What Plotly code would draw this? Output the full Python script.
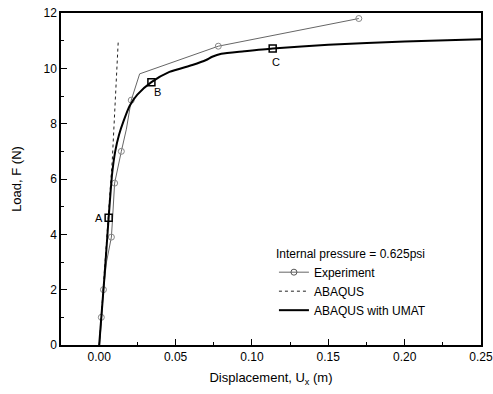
import plotly.graph_objects as go

# Experiment data
exp_x = [0.0003, 0.0014, 0.0028, 0.0048, 0.0080, 0.0088, 0.0101, 0.0145, 0.0178, 0.0210, 0.0265, 0.0780, 0.1700]
exp_y = [0.0, 1.0, 2.0, 3.0, 3.9, 4.6, 5.85, 7.0, 7.8, 8.85, 9.8, 10.8, 11.8]
exp_marker_x = [0.0014, 0.0028, 0.0080, 0.0101, 0.0145, 0.0210, 0.0780, 0.1700]
exp_marker_y = [1.0, 2.0, 3.9, 5.85, 7.0, 8.85, 10.8, 11.8]

# ABAQUS (dotted)
abq_x = [0.0, 0.0086, 0.0125]
abq_y = [0.0, 6.7, 11.0]

# ABAQUS with UMAT
umat_x = [0.0, 0.0035, 0.0062, 0.0085, 0.0105, 0.0130, 0.0160, 0.0200, 0.0250, 0.0342, 0.0460,
          0.0610, 0.0700, 0.0740, 0.0800, 0.0950, 0.1136, 0.1500, 0.2000, 0.2500]
umat_y = [0.0, 2.5, 4.6, 6.2, 7.0, 7.6, 8.1, 8.65, 9.05, 9.5, 9.87,
          10.12, 10.3, 10.42, 10.53, 10.62, 10.72, 10.85, 10.97, 11.05]

# Labelled points
pt_labels = ["A", "B", "C"]
pt_x = [0.0062, 0.0342, 0.1136]
pt_y = [4.6, 9.5, 10.72]

x_ticks = [0.0, 0.05, 0.10, 0.15, 0.20, 0.25]
y_ticks = [0, 2, 4, 6, 8, 10, 12]

FONT = "Liberation Sans, Arial, sans-serif"

fig = go.Figure()

fig.add_trace(go.Scatter(
    x=exp_x, y=exp_y, mode="lines", line=dict(color="#666666", width=1),
    showlegend=False, hoverinfo="skip"))
fig.add_trace(go.Scatter(
    x=exp_marker_x, y=exp_marker_y, mode="markers",
    marker=dict(symbol="circle-open", size=6, color="#888888", line=dict(width=1)),
    showlegend=False, hoverinfo="skip"))
# legend entry for experiment
fig.add_trace(go.Scatter(
    x=[None], y=[None], mode="lines+markers", name="Experiment",
    line=dict(color="#666666", width=1),
    marker=dict(symbol="circle-open", size=6, color="#555555", line=dict(width=1))))

fig.add_trace(go.Scatter(
    x=abq_x, y=abq_y, mode="lines", name="ABAQUS",
    line=dict(color="#222222", width=1, dash="dot")))

fig.add_trace(go.Scatter(
    x=umat_x, y=umat_y, mode="lines", name="ABAQUS with UMAT",
    line=dict(color="black", width=2, shape="spline", smoothing=0.6)))

fig.add_trace(go.Scatter(
    x=pt_x, y=pt_y, mode="markers", showlegend=False,
    marker=dict(symbol="square-open", size=7, color="black", line=dict(width=1.5))))

ann_offsets = {"A": (-10, 0), "B": (6, -10), "C": (3, -14)}
for lab, x, y in zip(pt_labels, pt_x, pt_y):
    dx, dy = ann_offsets[lab]
    fig.add_annotation(x=x, y=y, text=lab, showarrow=False,
                       xshift=dx, yshift=dy,
                       font=dict(family=FONT, size=11, color="black"))

fig.update_layout(
    width=493, height=394,
    margin=dict(l=61, r=12, t=13, b=49),
    paper_bgcolor="white", plot_bgcolor="white",
    font=dict(family=FONT, size=12, color="black"),
    legend=dict(
        x=0.507, y=0.31, xanchor="left", yanchor="top",
        bgcolor="rgba(0,0,0,0)",
        title=dict(text="Internal pressure = 0.625psi", font=dict(size=12)),
        font=dict(size=12), tracegroupgap=0, itemwidth=30,
    ),
)

fig.update_xaxes(
    range=[-0.025, 0.25], tickvals=x_ticks,
    ticktext=[f"{v:.2f}" for v in x_ticks],
    ticks="inside", ticklen=6, tickcolor="black",
    minor=dict(ticks="inside", ticklen=3, dtick=0.025, tickcolor="black"),
    showline=True, linecolor="black", linewidth=1.5, mirror=True,
    showgrid=False, zeroline=False, automargin=False, ticklabeloverflow="allow",
    title=dict(text="Displacement, U<sub>x</sub> (m)", font=dict(size=13), standoff=10),
)
fig.update_yaxes(
    range=[0, 12], tickvals=y_ticks,
    ticks="inside", ticklen=6, tickcolor="black",
    minor=dict(ticks="inside", ticklen=3, dtick=1, tickcolor="black"),
    showline=True, linecolor="black", linewidth=1.5, mirror=True,
    showgrid=False, zeroline=False, automargin=False, ticklabeloverflow="allow",
    title=dict(text="Load, F (N)", font=dict(size=13), standoff=19),
)

fig.write_html(
    "out.html",
    config={"displayModeBar": False},
    post_script="document.body.style.margin='0';document.body.style.overflow='hidden';",
)
